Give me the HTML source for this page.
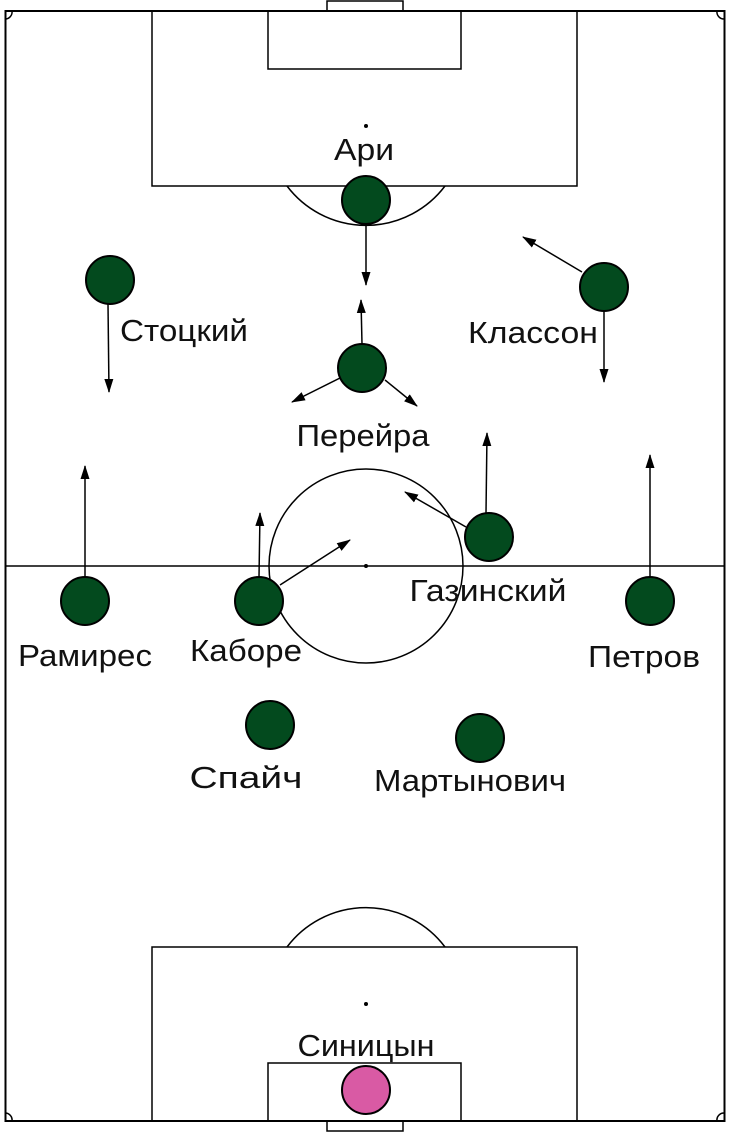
<!DOCTYPE html>
<html><head><meta charset="utf-8"><style>
html,body{margin:0;padding:0;background:#fff;}
svg{display:block}
text{font-family:"Liberation Sans",sans-serif;font-size:31px;fill:#111;text-anchor:middle}
</style></head><body>
<svg width="730" height="1132" viewBox="0 0 730 1132">
<defs><marker id="a" markerWidth="14" markerHeight="12" refX="13" refY="6" orient="auto" markerUnits="userSpaceOnUse"><path d="M0,1.5 L14,6 L0,10.5 Z" fill="#000"/></marker></defs>
<g fill="none" stroke="#000" stroke-width="1.5">
<rect x="5.5" y="11" width="719" height="1110" stroke-width="2"/>
<rect x="327" y="1" width="76" height="10"/>
<rect x="327" y="1121" width="76" height="10"/>
<rect x="152" y="11" width="425" height="175"/>
<rect x="268" y="11" width="193" height="58"/>
<rect x="152" y="947" width="425" height="174"/>
<rect x="268" y="1063" width="193" height="58"/>
<path d="M287,186 A99,99 0 0 0 445,186"/>
<path d="M287,947 A99,99 0 0 1 445,947"/>
<line x1="5" y1="566" x2="724" y2="566"/>
<circle cx="366" cy="566" r="97"/>
<path d="M5,19 A7,7 0 0 0 12,11"/><path d="M724,19 A7,7 0 0 1 717,11"/>
<path d="M5,1113 A7,7 0 0 1 12,1121"/><path d="M724,1113 A7,7 0 0 0 717,1121"/>
</g>
<circle cx="366" cy="126" r="2"/><circle cx="366" cy="566" r="2"/><circle cx="366" cy="1004" r="2"/>
<g stroke="#000" stroke-width="1.5" marker-end="url(#a)">
<line x1="366" y1="224" x2="366" y2="285"/>
<line x1="108" y1="304" x2="109" y2="392"/>
<line x1="582" y1="272" x2="523" y2="237"/>
<line x1="604" y1="311" x2="604" y2="382"/>
<line x1="362" y1="344" x2="361" y2="300"/>
<line x1="340" y1="378" x2="292" y2="402"/>
<line x1="385" y1="380" x2="417" y2="406"/>
<line x1="466" y1="527" x2="405" y2="492"/>
<line x1="486" y1="513" x2="487" y2="433"/>
<line x1="85" y1="577" x2="85" y2="466"/>
<line x1="259" y1="577" x2="260" y2="513"/>
<line x1="280" y1="585" x2="350" y2="540"/>
<line x1="650" y1="577" x2="650" y2="455"/>
</g>
<g fill="#034a1e" stroke="#000" stroke-width="2">
<ellipse cx="366" cy="200" rx="24" ry="24"/>
<circle cx="110" cy="280" r="24"/>
<circle cx="604" cy="287" r="24"/>
<circle cx="362" cy="368" r="24"/>
<circle cx="489" cy="537" r="24"/>
<circle cx="85" cy="601" r="24"/>
<circle cx="259" cy="601" r="24"/>
<circle cx="650" cy="601" r="24"/>
<circle cx="270" cy="725" r="24"/>
<circle cx="480" cy="738" r="24"/>
<circle cx="366" cy="1090" r="24" fill="#d95aa4"/>
</g>
<text x="364" y="160" textLength="60" lengthAdjust="spacingAndGlyphs">Ари</text>
<text x="184" y="341" textLength="128" lengthAdjust="spacingAndGlyphs">Стоцкий</text>
<text x="533" y="343" textLength="130" lengthAdjust="spacingAndGlyphs">Классон</text>
<text x="363" y="446" textLength="133" lengthAdjust="spacingAndGlyphs">Перейра</text>
<text x="488" y="601" textLength="157" lengthAdjust="spacingAndGlyphs">Газинский</text>
<text x="85" y="666" textLength="134" lengthAdjust="spacingAndGlyphs">Рамирес</text>
<text x="246" y="661" textLength="112" lengthAdjust="spacingAndGlyphs">Каборе</text>
<text x="644" y="667" textLength="112" lengthAdjust="spacingAndGlyphs">Петров</text>
<text x="246" y="788" textLength="113" lengthAdjust="spacingAndGlyphs">Спайч</text>
<text x="470" y="791" textLength="192" lengthAdjust="spacingAndGlyphs">Мартынович</text>
<text x="366" y="1056" textLength="137" lengthAdjust="spacingAndGlyphs">Синицын</text>
</svg>
</body></html>
